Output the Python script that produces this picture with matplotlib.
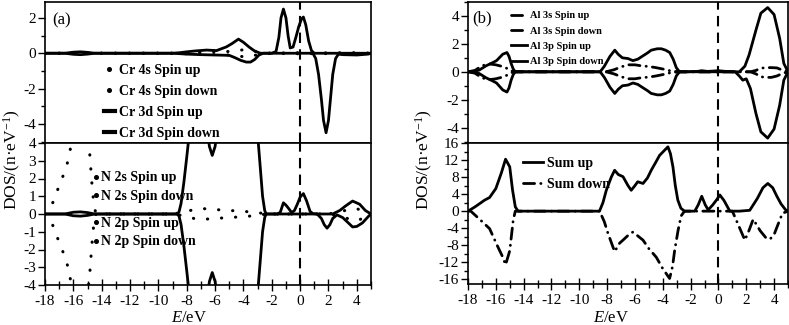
import matplotlib
matplotlib.use('Agg')
import matplotlib.pyplot as plt
from matplotlib.lines import Line2D
from matplotlib.ticker import MultipleLocator

plt.rcParams['font.family'] = ['Liberation Serif', 'DejaVu Serif']
plt.rcParams['mathtext.fontset'] = 'custom'
plt.rcParams['mathtext.rm'] = 'Liberation Serif'
plt.rcParams['mathtext.it'] = 'Liberation Serif:italic'
plt.rcParams['axes.linewidth'] = 1.2
plt.rcParams['axes.unicode_minus'] = False

# ---------------- data: panel (a) top, Cr ----------------
E_cr3d_up = [-18, -16.6, -16.0, -15.5, -15.0, -14.5, -9.0, -8.5, -8.0, -7.4, -6.6, -5.9,
             -5.2, -4.8, -4.35, -4.0, -3.6, -3.2, -2.8, -2.0, -1.7, -1.5, -1.35, -1.18,
             -1.0, -0.85, -0.7, -0.5, -0.3, -0.1, 0.1, 0.23, 0.4, 0.6, 0.8, 1.0, 5.0]
cr3d_up = [0, 0, 0.06, 0.08, 0.05, 0, 0, 0.03, 0.08, 0.13, 0.18, 0.15,
           0.36, 0.55, 0.8, 0.62, 0.35, 0.12, 0, 0, 0.1, 0.9, 2.0, 2.5,
           2.0, 1.0, 0.3, 0.35, 0.9, 1.5, 1.95, 2.05, 1.6, 0.7, 0.15, 0, 0]
E_cr3d_dn = [-18, -16.6, -16.0, -15.5, -15.0, -14.5, -9.0, -8.0, -7.0, -6.0, -5.0, -4.6,
             -4.2, -3.8, -3.5, -3.2, -2.9, -2.6, 0.9, 1.1, 1.3, 1.5, 1.65, 1.83,
             2.0, 2.15, 2.3, 2.5, 2.7, 3.0, 4.0, 4.8, 5.0]
cr3d_dn = [0, 0, -0.06, -0.08, -0.05, 0, 0, -0.05, -0.08, -0.1, -0.12, -0.25,
           -0.4, -0.5, -0.5, -0.35, -0.1, 0, 0, -0.3, -1.2, -2.6, -3.8, -4.5,
           -3.8, -2.5, -1.2, -0.3, -0.05, -0.08, -0.1, -0.05, 0]
E_cr4s = [-18, -9, -8, -7, -6, -5, -4.5, -4.0, -3.6, -3.2, -2.8, -2.4, -1, 0, 1, 2, 3, 4, 5]
cr4s_up = [0, 0, 0.03, 0.06, 0.08, 0.1, 0.13, 0.2, 0.22, 0.12, 0.03, 0, 0.02, 0.03, 0.02, 0.02, 0.03, 0.03, 0]
cr4s_dn = [0, 0, -0.03, -0.06, -0.08, -0.1, -0.13, -0.2, -0.22, -0.12, -0.03, 0, -0.02, -0.03, -0.02, -0.02, -0.03, -0.03, 0]

# ---------------- data: panel (a) bottom, N ----------------
E_n2s = [-18, -17.7, -17.4, -17.0, -16.6, -16.3, -16.0, -15.6, -15.2, -14.85, -14.7, -14.55,
         -14.4, -9.0, -8.2, -7.5, -6.8, -6.0, -5.0, -4.0, -3.0, -2.4, 0, 2,
         3.0, 3.5, 4.0, 4.5, 5]
n2s_up = [0, 0.2, 0.73, 1.6, 2.4, 3.2, 4.8, 7, 6, 3.45, 1.8, 0.5,
          0, 0, 0.1, 0.25, 0.3, 0.25, 0.2, 0.15, 0.08, 0, 0, 0,
          0.15, 0.3, 0.3, 0.15, 0]
n2s_dn = [0, -0.2, -0.73, -1.6, -2.4, -3.2, -4.8, -7, -6, -3.45, -1.8, -0.5,
          0, 0, -0.1, -0.25, -0.3, -0.25, -0.2, -0.15, -0.08, 0, 0, 0,
          -0.15, -0.3, -0.4, -0.2, 0]
E_n2p_up = [-18, -16.6, -16.0, -15.5, -15.0, -14.5, -9.0, -8.7, -8.55, -8.4, -8.2, -8.0,
            -7.85, -7.5, -7.0, -6.6, -6.4, -6.2, -6.0, -5.8, -5.0, -4.0, -3.3, -3.05,
            -2.95, -2.8, -2.65, -2.5, -2.4, -1.6, -1.4, -1.18, -1.0, -0.8, -0.6, -0.4,
            -0.2, 0.0, 0.23, 0.45, 0.7, 0.9, 1.2, 2.3, 2.8, 3.2, 3.7, 4.2, 4.6, 5.0]
n2p_up = [0, 0, 0.1, 0.12, 0.08, 0, 0, 0, 0.1, 0.6, 1.8, 3.2,
          4.3, 6, 7, 5, 3.8, 3.3, 3.8, 5, 8, 9, 6, 4.5,
          4, 2.5, 1.0, 0.2, 0, 0, 0.1, 0.63, 0.5, 0.3, 0.08, 0.2,
          0.55, 0.95, 1.15, 0.75, 0.15, 0.02, 0, 0, 0.2, 0.45, 0.73, 0.55, 0.2, 0]
E_n2p_dn = [-18, -16.6, -16.0, -15.5, -15.0, -14.5, -9.0, -8.7, -8.55, -8.4, -8.2, -8.0,
            -7.85, -7.5, -7.0, -6.6, -6.4, -6.2, -6.0, -5.8, -5.0, -4.0, -3.3, -3.05,
            -2.95, -2.8, -2.65, -2.5, -2.4, 1.2, 1.5, 1.7, 1.9, 2.1, 2.3, 2.6,
            3.0, 3.4, 3.7, 4.0, 4.4, 4.8, 5.0]
n2p_dn = [0, 0, -0.1, -0.12, -0.08, 0, 0, 0, -0.1, -0.6, -1.8, -3.2,
          -4.3, -6, -7, -5, -3.8, -3.3, -3.8, -5, -8, -9, -6, -4.5,
          -4, -2.5, -1.0, -0.2, 0, 0, -0.25, -0.6, -0.8, -0.6, -0.25, -0.05,
          -0.2, -0.5, -0.73, -0.7, -0.5, -0.15, 0]

# ---------------- data: panel (b) top, Al ----------------
E_al3p_up = [-18, -17.6, -17.2, -16.7, -16.3, -15.95, -15.5, -15.2, -15.05, -14.9, -14.75, -14.6,
             -9.0, -8.5, -8.2, -7.8, -7.45, -7.2, -6.9, -6.5, -6.15, -5.8, -5.43, -5.1,
             -4.83, -4.4, -4.1, -3.8, -3.5, -3.25, -3.03, -2.8, -2.3, -1.5, -1.2, -0.8,
             -0.4, 0.0, 0.4, 1.0, 1.5, 1.9, 2.2, 2.7, 3.05, 3.54, 4.0, 4.4, 4.7, 5.0]
al3p_up = [0, 0.03, 0.12, 0.43, 0.62, 0.8, 1.26, 1.38, 1.1, 0.6, 0.2, 0,
           0, 0, 0.4, 1.1, 1.55, 1.25, 1.0, 0.95, 0.8, 0.9, 1.14, 1.35,
           1.55, 1.65, 1.65, 1.55, 1.38, 0.9, 0.3, 0, 0, 0.03, 0.08, 0.03,
           0.05, 0.08, 0.04, 0, 0, 0.4, 1.2, 3.0, 4.2, 4.6, 4.1, 2.4, 0.6, 0]
E_al3p_dn = [-18, -17.6, -17.2, -16.7, -16.3, -15.95, -15.5, -15.2, -15.05, -14.9, -14.75, -14.6,
             -9.0, -8.5, -8.2, -7.8, -7.45, -7.2, -6.9, -6.5, -6.15, -5.8, -5.43, -5.1,
             -4.83, -4.4, -4.1, -3.8, -3.5, -3.25, -3.03, -2.8,
             1.2, 1.5, 1.75, 2.0, 2.3, 2.7, 3.05, 3.54, 4.0, 4.4, 4.7, 5.0]
al3p_dn = [0, -0.03, -0.12, -0.43, -0.62, -0.8, -1.3, -1.45, -1.15, -0.6, -0.2, 0,
           0, 0, -0.4, -1.1, -1.55, -1.25, -1.0, -0.95, -0.8, -0.9, -1.14, -1.35,
           -1.55, -1.65, -1.65, -1.55, -1.38, -0.9, -0.3, 0,
           0, -0.3, -0.6, -0.5, -1.2, -3.0, -4.3, -4.75, -4.1, -2.4, -0.6, 0]
E_al3s = [-18, -17.5, -17.0, -16.5, -16.0, -15.6, -15.3, -15.0, -14.7,
          -9, -8, -7.5, -7.0, -6.5, -6.0, -5.5, -5.0, -4.5, -4.0, -3.5, -3.0, -2.5,
          2.3, 2.7, 3.0, 3.4, 3.8, 4.2, 4.6, 5.0]
al3s_up = [0, 0.1, 0.43, 0.57, 0.5, 0.4, 0.3, 0.12, 0,
           0, 0.02, 0.15, 0.35, 0.5, 0.5, 0.42, 0.38, 0.3, 0.2, 0.08, 0.02, 0,
           0, 0.1, 0.25, 0.3, 0.3, 0.28, 0.12, 0]
al3s_dn = [0, -0.1, -0.43, -0.57, -0.5, -0.4, -0.3, -0.12, 0,
           0, -0.02, -0.15, -0.35, -0.5, -0.5, -0.42, -0.38, -0.3, -0.2, -0.08, -0.02, 0,
           0, -0.15, -0.35, -0.4, -0.4, -0.3, -0.12, 0]

# ---------------- data: panel (b) bottom, total ----------------
E_sum_up = [-18, -17.5, -16.8, -16.45, -16.0, -15.6, -15.3, -15.0, -14.8, -14.6, -14.4, -9.0,
            -8.55, -8.3, -8.06, -7.7, -7.46, -7.2, -6.86, -6.5, -6.27, -6.0, -5.8, -5.42,
            -5.1, -4.83, -4.5, -4.23, -3.9, -3.63, -3.45, -3.27, -3.1, -2.92, -2.7, -2.44,
            -1.7, -1.45, -1.2, -0.95, -0.74, -0.4, -0.1, 0.1, 0.4, 0.82, 1.5, 2.25,
            2.8, 3.2, 3.55, 3.9, 4.2, 4.5, 4.83, 5.0]
sum_up = [0, 1.0, 2.6, 3.2, 5.3, 9, 12.2, 10.4, 5, 1.0, 0, 0,
          0, 2, 4.9, 8, 9.6, 8.6, 8.1, 6, 4.9, 6, 6.9, 6.5,
          7.8, 9.6, 11.5, 13.1, 14.2, 15.1, 13.5, 10.4, 6, 2.6, 0.7, 0,
          0, 1.5, 3.5, 1.5, 0.3, 1.5, 2.8, 3.8, 2.5, 0, 0, 0.2,
          3, 5.5, 6.5, 5.5, 3.5, 1.7, 0.3, 0]
E_sum_dn = [-18, -17.8, -17.1, -16.45, -15.85, -15.5, -15.3, -15.0, -14.75, -14.6, -9.0, -8.54,
            -8.2, -7.94, -7.46, -7.1, -6.86, -6.5, -6.15, -5.8, -5.42, -5.0, -4.47, -4.0,
            -3.51, -3.3, -3.15, -2.9, -2.68, -2.44, 1.0, 1.4, 1.9, 2.2, 2.5, 3.0,
            3.4, 3.7, 4.0, 4.2, 4.6, 5.0]
sum_dn = [0, 0, -2.1, -4.1, -8.4, -10.8, -12.6, -9.3, -2.1, 0, 0, 0,
          -2.5, -5.2, -9.5, -7.5, -6.8, -5.7, -4.9, -5.8, -6.8, -8.8, -10.8, -13.5,
          -15.8, -13, -9.3, -4.5, -1.1, 0, 0, -3, -6.8, -4.5, -1.9, -4.6,
          -6.2, -6.6, -5.5, -3.8, -0.5, 0]

x_ticks = [-18, -16, -14, -12, -10, -8, -6, -4, -2, 0, 2, 4]

# ---------------- figure ----------------
W, H = 789, 325
fig = plt.figure(figsize=(W / 100, H / 100), dpi=100)

def box(x0, y0, x1, y1):
    return [x0 / W, 1 - y1 / H, (x1 - x0) / W, (y1 - y0) / H]

axA1 = fig.add_axes(box(45, 2, 371, 143))
axA2 = fig.add_axes(box(45, 143, 371, 285))
axB1 = fig.add_axes(box(468, 2, 788, 143))
axB2 = fig.add_axes(box(468, 143, 788, 284))

DOT = dict(color='k', lw=2.2, ls=(0, (0.1, 4.5)), dash_capstyle='round', solid_capstyle='round')
SOL = dict(color='k', lw=2.0, ls='-')
DDOT = dict(color='k', lw=2.0, ls=(0, (4, 2.2, 0.1, 2.2)), dash_capstyle='round')

# panel (a) top
axA1.plot(E_cr4s, cr4s_up, **DOT)
axA1.plot(E_cr4s, cr4s_dn, **DOT)
axA1.plot(E_cr3d_up, cr3d_up, **SOL)
axA1.plot(E_cr3d_dn, cr3d_dn, **SOL)
# panel (a) bottom
axA2.plot(E_n2s, n2s_up, **DOT)
axA2.plot(E_n2s, n2s_dn, **DOT)
axA2.plot(E_n2p_up, n2p_up, **SOL)
axA2.plot(E_n2p_dn, n2p_dn, **SOL)
# panel (b) top
axB1.plot(E_al3s, al3s_up, **DDOT)
axB1.plot(E_al3s, al3s_dn, **DDOT)
axB1.plot(E_al3p_up, al3p_up, **SOL)
axB1.plot(E_al3p_dn, al3p_dn, **SOL)
# panel (b) bottom
axB2.plot(E_sum_up, sum_up, **SOL)
axB2.plot(E_sum_dn, sum_dn, **DDOT)

for ax in (axA1, axA2, axB1, axB2):
    ax.axvline(0, color='k', lw=1.5, ls=(0, (5, 3)))
    ax.set_xlim(-18, 5.0)
    ax.xaxis.set_major_locator(MultipleLocator(2))
    ax.xaxis.set_minor_locator(MultipleLocator(1))
    ax.tick_params(axis='y', which='both', direction='out', right=False, labelsize=11, pad=1.5, width=1.0)
    ax.tick_params(axis='y', which='major', length=5)
    ax.tick_params(axis='y', which='minor', length=3)
    ax.tick_params(axis='x', which='both', direction='inout', top=False, labelsize=11, pad=3, width=1.0)
    ax.tick_params(axis='x', which='major', length=8)
    ax.tick_params(axis='x', which='minor', length=6)

for ax in (axA1, axB1):
    ax.tick_params(axis='x', which='both', bottom=False, labelbottom=False)

axA1.set_ylim(-5.08, 2.9)
axA1.set_yticks([-4, -2, 0, 2])
axA1.yaxis.set_minor_locator(MultipleLocator(1))
axA2.set_ylim(-4, 4)
axA2.set_yticks([-4, -3, -2, -1, 0, 1, 2, 3, 4])
axB1.set_ylim(-5.1, 5.0)
axB1.set_yticks([-4, -2, 0, 2, 4])
axB1.yaxis.set_minor_locator(MultipleLocator(1))
axB2.set_ylim(-17.1, 16)
axB2.set_yticks([-16, -12, -8, -4, 0, 4, 8, 12, 16])
axB2.yaxis.set_minor_locator(MultipleLocator(2))

for ax in (axA2, axB2):
    ax.set_xticks(x_ticks)

# legends
LB = {'family': 'Liberation Serif', 'weight': 'bold', 'size': 10}
dot_h = Line2D([], [], ls='none', marker='o', ms=2.6, color='k')
bar_h = Line2D([], [], ls='-', lw=3, color='k')
axA1.legend([dot_h, dot_h, bar_h, bar_h],
            ['Cr 4s Spin up', 'Cr 4s Spin down', 'Cr 3d Spin up', 'Cr 3d Spin down'],
            loc='upper left', bbox_to_anchor=(0.18, 0.56), frameon=False, prop=LB,
            handlelength=0.8, handletextpad=0.3, labelspacing=0.58, borderpad=0, borderaxespad=0)

legA = axA2.legend([dot_h, dot_h], ['N 2s Spin up', 'N 2s Spin down'],
                   loc='upper left', bbox_to_anchor=(0.145, 0.8), frameon=False, prop=LB,
                   handlelength=0.5, handletextpad=0.15, labelspacing=0.4, borderpad=0, borderaxespad=0)
axA2.add_artist(legA)
axA2.legend([dot_h, dot_h], ['N 2p Spin up', 'N 2p Spin down'],
            loc='upper left', bbox_to_anchor=(0.145, 0.48), frameon=False, prop=LB,
            handlelength=0.5, handletextpad=0.15, labelspacing=0.4, borderpad=0, borderaxespad=0)

LS = {'family': 'Liberation Serif', 'weight': 'bold', 'size': 7.5}
axB1.legend([Line2D([], [], **DDOT), Line2D([], [], **DDOT), Line2D([], [], **SOL), Line2D([], [], **SOL)],
            ['Al 3s Spin up', 'Al 3s Spin down', 'Al 3p Spin up', 'Al 3p Spin down'],
            loc='upper left', bbox_to_anchor=(0.134, 0.935), frameon=False, prop=LS,
            handlelength=1.5, handletextpad=0.3, labelspacing=0.58, borderpad=0, borderaxespad=0)

axB2.legend([Line2D([], [], **SOL), Line2D([], [], **DDOT)], ['Sum up', 'Sum down'],
            loc='upper left', bbox_to_anchor=(0.172, 0.9), frameon=False, prop=LB,
            handlelength=1.45, handletextpad=0.3, labelspacing=0.55, borderpad=0, borderaxespad=0)

# panel labels
axA1.text(0.021, 0.872, '(a)', transform=axA1.transAxes, fontsize=12, va='center', ha='left')
axB1.text(0.0125, 0.887, '(b)', transform=axB1.transAxes, fontsize=12, va='center', ha='left')

# axis labels
ylab = 'DOS/(n\u00b7eV$^{-1}$)'
fig.text(12 / W, 1 - 160 / H, ylab, rotation=90, fontsize=12.5, ha='center', va='center')
fig.text(424 / W, 1 - 160 / H, ylab, rotation=90, fontsize=12.5, ha='center', va='center')
fig.text(189 / W, 1 - 318 / H, '$E$/eV', fontsize=12, ha='center', va='center')
fig.text(611 / W, 1 - 318 / H, '$E$/eV', fontsize=12, ha='center', va='center')

fig.savefig('out.png', dpi=100)
